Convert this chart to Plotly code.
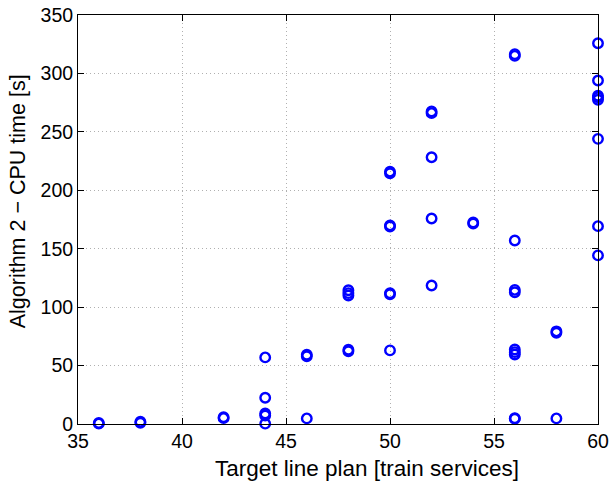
import plotly.graph_objects as go

# Data
x_vals = [36, 36, 38, 38, 42, 42,
          44, 44, 44, 44, 44,
          46, 46, 46,
          48, 48, 48, 48, 48,
          50, 50, 50, 50, 50, 50, 50,
          52, 52, 52, 52, 52,
          54, 54,
          56, 56, 56, 56, 56, 56, 56, 56, 56, 56,
          58, 58, 58,
          60, 60, 60, 60, 60, 60, 60, 60]
y_vals = [0.3, 0.8, 1.0, 2.0, 5.0, 5.8,
          0.3, 7.3, 9.0, 22.5, 57.0,
          4.8, 58.0, 59.3,
          62.3, 63.5, 110.0, 112.0, 114.5,
          63.0, 111.0, 112.0, 169.0, 170.0, 214.5, 216.0,
          118.5, 175.8, 228.3, 266.0, 267.5,
          171.5, 172.5,
          4.5, 5.0, 59.5, 61.5, 63.8, 112.8, 114.8, 157.0, 315.0, 316.5,
          4.8, 78.0, 79.3,
          144.3, 169.3, 244.0, 277.5, 279.5, 281.0, 294.0, 325.8]

x_ticks = [35, 40, 45, 50, 55, 60]
y_ticks = [0, 50, 100, 150, 200, 250, 300, 350]
x_title = "Target line plan [train services]"
y_title = "Algorithm 2 − CPU time [s]"

fig = go.Figure()
fig.add_trace(go.Scatter(
    x=x_vals, y=y_vals, mode="markers",
    marker=dict(symbol="circle-open", size=9.5, color="#0000ff",
                line=dict(width=2.4, color="#0000ff")),
    cliponaxis=False, showlegend=False, hoverinfo="skip",
))

FONT = "Liberation Sans, Arial, sans-serif"
axis_common = dict(
    showline=True, linecolor="black", linewidth=1, mirror="ticks",
    ticks="inside", ticklen=6, tickcolor="black", tickwidth=1,
    showgrid=True, gridcolor="#b0b0b0", griddash="1px,3px", gridwidth=1,
    zeroline=False, automargin=False,
    tickfont=dict(family=FONT, size=19.5, color="black"),
)

fig.update_layout(
    width=609, height=482,
    margin=dict(l=78, r=11, t=15, b=58),
    paper_bgcolor="white", plot_bgcolor="white",
    font=dict(family=FONT, color="black"),
    xaxis=dict(range=[35, 60], tickvals=x_ticks, **axis_common),
    yaxis=dict(range=[0, 350], tickvals=y_ticks, **axis_common),
    annotations=[
        dict(text=x_title, xref="paper", yref="paper", x=0.556, y=-0.110,
             xanchor="center", yanchor="middle", showarrow=False,
             font=dict(family=FONT, size=22.5, color="black")),
        dict(text=y_title, xref="paper", yref="paper", x=-0.115, y=0.545,
             xanchor="center", yanchor="middle", showarrow=False, textangle=-90,
             font=dict(family=FONT, size=21.5, color="black")),
    ],
)

fig.write_html("out.html", config={"displayModeBar": False},
               post_script="document.body.style.margin='0';document.body.style.overflow='hidden';")
